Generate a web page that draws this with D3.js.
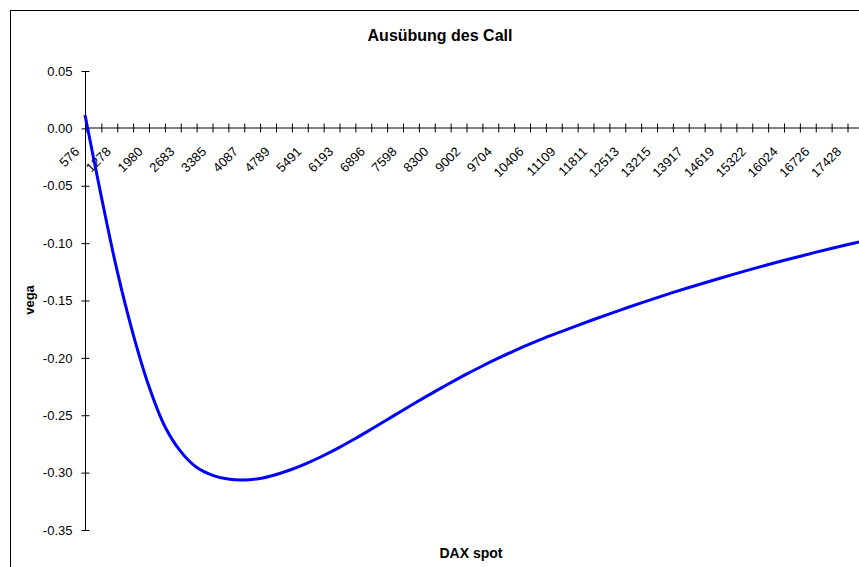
<!DOCTYPE html>
<html>
<head>
<meta charset="utf-8">
<script src="https://cdn.jsdelivr.net/npm/d3@7"></script>
<style>
  html, body { margin: 0; padding: 0; background: #fff; overflow: hidden; }
  svg { display: block; font-family: Arial, "Liberation Sans", sans-serif; }
</style>
</head>
<body>
<svg id="chart" width="859" height="567"></svg>
<script>
// DAX spot levels (one per category)
const spotValues = [
  576, 927, 1278, 1629, 1980, 2331, 2683, 3034, 3385, 3736,
  4087, 4438, 4789, 5140, 5491, 5842, 6193, 6544, 6896, 7247,
  7598, 7949, 8300, 8651, 9002, 9353, 9704, 10055, 10406, 10757,
  11109, 11460, 11811, 12162, 12513, 12864, 13215, 13566, 13917, 14268,
  14619, 14970, 15322, 15673, 16024, 16375, 16726, 17077, 17428, 17779
];

// Vega of the call for each spot level
const vegaValues = [
  0.0116, -0.0575, -0.1227, -0.1777, -0.2237, -0.2589, -0.2811, -0.2951, -0.3021, -0.3056,
  -0.3064, -0.3051, -0.3018, -0.2973, -0.2917, -0.2853, -0.2782, -0.2705, -0.2624, -0.2541,
  -0.2458, -0.2376, -0.2296, -0.2219, -0.2144, -0.2073, -0.2005, -0.1941, -0.1881, -0.1824,
  -0.1771, -0.1719, -0.1668, -0.1618, -0.1570, -0.1523, -0.1477, -0.1432, -0.1389, -0.1347,
  -0.1306, -0.1266, -0.1227, -0.1189, -0.1152, -0.1116, -0.1081, -0.1047, -0.1014, -0.0982
];

// Category labels printed along the axis
const xTickLabels = [
  576, 1278, 1980, 2683, 3385, 4087, 4789, 5491, 6193, 6896, 7598, 8300, 9002,
  9704, 10406, 11109, 11811, 12513, 13215, 13917, 14619, 15322, 16024, 16726, 17428
];

// Value axis ticks
const yTickValues = [0.05, 0.00, -0.05, -0.10, -0.15, -0.20, -0.25, -0.30, -0.35];

const titleText = "Ausübung des Call";
const xAxisTitle = "DAX spot";
const yAxisTitle = "vega";

const svg = d3.select("#chart");

// frame of the chart area
svg.append("rect")
  .attr("x", 10.5).attr("y", 10.5)
  .attr("width", 900).attr("height", 600)
  .attr("fill", "#fff").attr("stroke", "#000").attr("stroke-width", 1);

const plotLeft = 85, plotTop = 71, plotBottom = 530;
const catStep = 15.875;

const x = d3.scalePoint()
  .domain(spotValues)
  .range([plotLeft, plotLeft + catStep * (spotValues.length - 1)]);

const y = d3.scaleLinear()
  .domain([-0.35, 0.05])
  .range([plotBottom, plotTop]);

const fmt = d3.formatLocale({decimal: ".", thousands: ",", grouping: [3], currency: ["", ""], minus: "-"}).format(".2f");

// value axis
const yAxis = svg.append("g")
  .attr("transform", `translate(${plotLeft + 0.5},0)`)
  .call(d3.axisLeft(y).tickValues(yTickValues).tickFormat(fmt).tickSizeOuter(0).tickSizeInner(4).tickPadding(9));
yAxis.select(".domain").attr("stroke", "#000").attr("d", `M0,${y(0.05)}V${y(-0.35)}`);
yAxis.selectAll(".tick line").attr("x1", -4).attr("x2", 4).attr("stroke", "#000");
yAxis.selectAll(".tick text")
  .attr("font-family", "Arial, 'Liberation Sans', sans-serif")
  .attr("font-size", 13).attr("fill", "#000");

// category axis crossing at zero
const y0 = Math.round(y(0));
const xAxis = svg.append("g")
  .attr("transform", `translate(0.5,${y0})`)
  .call(d3.axisBottom(x).tickValues(spotValues).tickFormat("").tickSizeOuter(0).tickSizeInner(4));
xAxis.select(".domain").attr("stroke", "#000").attr("d", `M${plotLeft},0H900`);
xAxis.selectAll(".tick line").attr("y1", -4.5).attr("y2", 4.5).attr("stroke", "#000");

// rotated category labels
svg.append("g").selectAll("text")
  .data(xTickLabels)
  .join("text")
  .attr("transform", d => `translate(${x(d) - 5},${y0 + 24.5}) rotate(-45)`)
  .attr("text-anchor", "end")
  .attr("font-size", 13)
  .attr("fill", "#000")
  .text(d => d);

// vega curve
const line = d3.line()
  .x((d, i) => x(spotValues[i]))
  .y(d => y(d))
  .curve(d3.curveCatmullRom.alpha(0.5));

svg.append("path")
  .datum(vegaValues)
  .attr("d", line)
  .attr("fill", "none")
  .attr("stroke", "#0000ff")
  .attr("stroke-width", 3)
  .attr("stroke-linejoin", "round");

// titles
svg.append("text")
  .attr("x", 440).attr("y", 41)
  .attr("text-anchor", "middle")
  .attr("font-size", 16).attr("font-weight", "bold")
  .text(titleText);

svg.append("text")
  .attr("x", 471).attr("y", 558)
  .attr("text-anchor", "middle")
  .attr("font-size", 14).attr("font-weight", "bold")
  .text(xAxisTitle);

svg.append("text")
  .attr("transform", `translate(34,300) rotate(-90)`)
  .attr("text-anchor", "middle")
  .attr("font-size", 13).attr("font-weight", "bold")
  .text(yAxisTitle);
</script>
</body>
</html>
